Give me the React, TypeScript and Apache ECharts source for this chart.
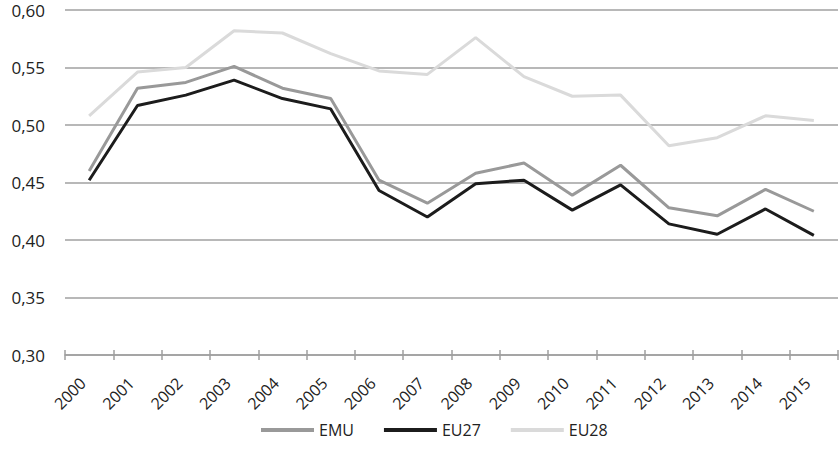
import React, { useEffect, useRef } from "react";
import * as echarts from "echarts";

const years = ["2000","2001","2002","2003","2004","2005","2006","2007","2008","2009","2010","2011","2012","2013","2014","2015"];
const emu = [0.460,0.532,0.537,0.551,0.532,0.523,0.452,0.432,0.458,0.467,0.439,0.465,0.428,0.421,0.444,0.425];
const eu27 = [0.452,0.517,0.526,0.539,0.523,0.514,0.443,0.420,0.449,0.452,0.426,0.448,0.414,0.405,0.427,0.404];
const eu28 = [0.508,0.546,0.550,0.582,0.580,0.562,0.547,0.544,0.576,0.542,0.525,0.526,0.482,0.489,0.508,0.504];

const FONT = "'Open Sans', sans-serif";

export default function App() {
  const ref = useRef<HTMLDivElement>(null);
  useEffect(() => {
    const chart = echarts.init(ref.current!, null, { renderer: "svg" });
    const line = (name: string, data: number[], color: string) => ({
      name,
      type: "line",
      data,
      showSymbol: false,
      symbol: "none",
      lineStyle: { color, width: 3 },
      itemStyle: { color },
      z: 3,
    });
    chart.setOption({
      animation: false,
      backgroundColor: "#ffffff",
      textStyle: { fontFamily: FONT },
      grid: { left: 65, right: 2, top: 10, bottom: 106 },
      legend: {
        bottom: 18,
        left: 256,
        icon: "rect",
        itemWidth: 53,
        itemHeight: 4,
        itemGap: 30,
        textStyle: { fontFamily: FONT, fontSize: 16, color: "#222" },
        data: ["EMU", "EU27", "EU28"],
      },
      xAxis: [
        {
          type: "category",
          data: years,
          boundaryGap: true,
          axisLine: { show: true, lineStyle: { color: "#9f9f9f", width: 1.5 } },
          axisTick: { show: true, length: 5, lineStyle: { color: "#9f9f9f", width: 1.5 } },
          axisLabel: { rotate: 45, fontFamily: FONT, fontSize: 16, color: "#222", margin: 19, padding: [0, 9, 0, 0] },
        },
        {
          type: "category",
          data: years,
          position: "bottom",
          boundaryGap: true,
          axisLine: { show: false },
          axisTick: { show: true, inside: true, length: 5, lineStyle: { color: "#9f9f9f", width: 1.5 } },
          axisLabel: { show: false },
        },
      ],
      yAxis: {
        type: "value",
        min: 0.3,
        max: 0.6,
        interval: 0.05,
        axisLine: { show: false },
        axisTick: { show: false },
        splitLine: { lineStyle: { color: "#a0a0a0", width: 1.5 } },
        axisLabel: {
          fontFamily: FONT,
          fontSize: 17,
          color: "#222",
          margin: 20,
          formatter: (v: number) => v.toFixed(2).replace(".", ","),
        },
      },
      series: [
        line("EMU", emu, "#999999"),
        line("EU27", eu27, "#1c1c1c"),
        line("EU28", eu28, "#dadada"),
      ],
    });
    return () => chart.dispose();
  }, []);
  return <div ref={ref} style={{ width: 840, height: 461, position: "absolute", left: 0, top: 0 }} />;
}
